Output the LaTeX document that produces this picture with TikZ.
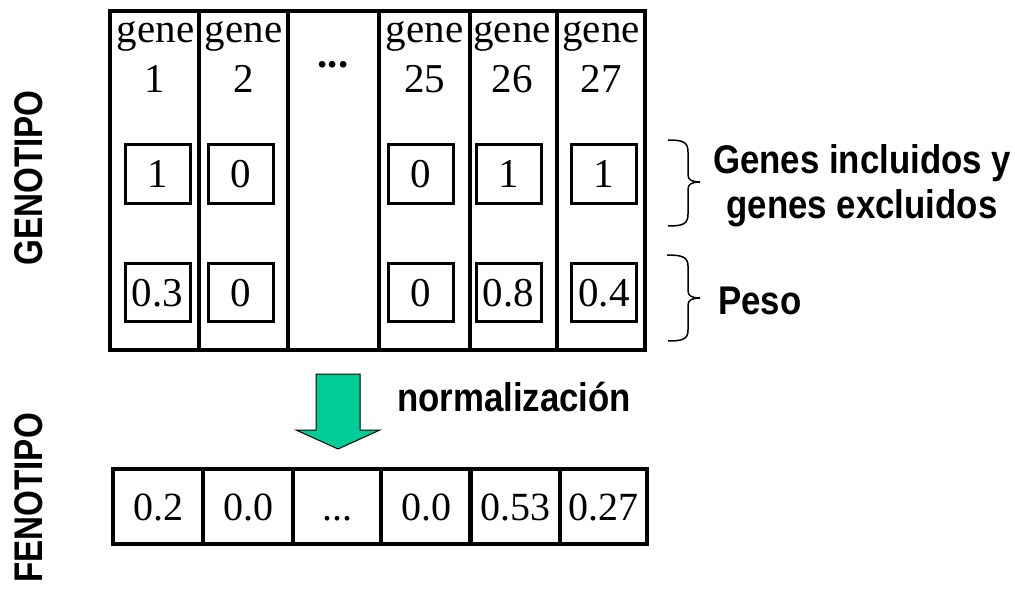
\documentclass[tikz,border=0pt]{standalone}
\usepackage{fontspec}
\setmainfont{Liberation Serif}
\newfontfamily\labelfont[FakeStretch=0.87]{Liberation Sans Bold}
\newfontfamily\titlefont[FakeStretch=0.83]{Liberation Sans Bold}
\definecolor{arrowgreen}{RGB}{0,204,150}
\begin{document}
\begin{tikzpicture}[x=1pt,y=-1pt,
  column/.style={draw, line width=4pt, inner sep=0pt, outer sep=0pt, anchor=north west},
  genetext/.style={font=\fontsize{41}{41}\selectfont, inner sep=0pt, anchor=base},
  valbox/.style={draw, line width=3pt, inner sep=0pt, outer sep=0pt, minimum width=65pt,
    minimum height=58pt, text height=28pt, text depth=0pt, font=\fontsize{41}{41}\selectfont},
  phenocell/.style={draw, line width=4pt, inner sep=0pt, outer sep=0pt, minimum height=75pt,
    text height=27pt, text depth=0pt, font=\fontsize{40}{40}\selectfont},
  sidelabel/.style={font=\labelfont\fontsize{40}{45}\selectfont, inner sep=0pt},
  rowtitle/.style={font=\titlefont\fontsize{40}{40}\selectfont, inner sep=0pt, rotate=90},
  bracestyle/.style={draw, line width=1.5pt}]
\useasboundingbox (0,0) rectangle (1015,591);

% genotype: six gene columns
\node[column, minimum width=89pt, minimum height=339pt] (c1) at (110,11) {};
\node[column, minimum width=89pt, minimum height=339pt] (c2) at (199,11) {};
\node[column, minimum width=91pt, minimum height=339pt] (c3) at (288,11) {};
\node[column, minimum width=91pt, minimum height=339pt] (c4) at (379,11) {};
\node[column, minimum width=88pt, minimum height=339pt] (c6) at (557,11) {};
\node[column, minimum width=87pt, minimum height=339pt] (c5) at (470,11) {};

% column headings
\node[genetext] (g1) at (155.5,43) {gene};
\node[genetext] (n1) at (155,93) {1};
\node[genetext] (g2) at (243.5,43) {gene};
\node[genetext] (n2) at (244,93) {2};
\node[genetext, font=\bfseries\fontsize{41}{41}\selectfont] (dots1) at (333,68) {...};
\node[genetext] (g4) at (424.5,43) {gene};
\node[genetext] (n4) at (424.5,93) {25};
\node[genetext] (g5) at (512,43) {gene};
\node[genetext] (n5) at (512,93) {26};
\node[genetext] (g6) at (601,43) {gene};
\node[genetext] (n6) at (601,93) {27};

% included / excluded flags
\node[valbox] (b11) at (157.5,174) {1};
\node[valbox] (b12) at (241,174) {0};
\node[valbox] (b14) at (420.5,174) {0};
\node[valbox] (b15) at (508.5,174) {1};
\node[valbox] (b16) at (604,174) {1};

% weights
\node[valbox] (b21) at (157.5,292) {0.3};
\node[valbox] (b22) at (241,292) {0};
\node[valbox] (b24) at (420.5,292) {0};
\node[valbox] (b25) at (508.5,292) {0.8};
\node[valbox] (b26) at (604,292) {0.4};

% normalisation arrow
\filldraw[fill=arrowgreen, draw=black, line width=1pt, line join=miter]
  (316,374) -- (360,374) -- (360,430) -- (380,430) -- (338,449) -- (296,430) -- (316,430) -- cycle;
\node[sidelabel, anchor=base west] (norm) at (397,411) {normalización};

% phenotype row
\node[phenocell, minimum width=90pt] (p1) at (158,506.5) {0.2};
\node[phenocell, minimum width=90pt] (p2) at (248,506.5) {0.0};
\node[phenocell, minimum width=88pt] (p3) at (337,506.5) {...};
\node[phenocell, minimum width=90pt] (p4) at (426,506.5) {0.0};
\node[phenocell, minimum width=90pt] (p5) at (515,506.5) {0.53};
\node[phenocell, minimum width=87pt] (p6) at (603.5,506.5) {0.27};

% braces and their labels
\draw[bracestyle] (668,140) .. controls (683,140) and (688,142) .. (688,152) -- (688,175)
  .. controls (688,180) and (692,182) .. (700,182)
  .. controls (692,182) and (688,184) .. (688,189) -- (688,214)
  .. controls (688,224) and (683,226) .. (668,226);
\node[sidelabel, align=center] (incl) at (862,186) {Genes incluidos y\\genes excluidos};

\draw[bracestyle] (667,255) .. controls (682,255) and (688,257) .. (688,266) -- (688,291)
  .. controls (688,296) and (692,298) .. (700,298)
  .. controls (692,298) and (688,300) .. (688,305) -- (688,330)
  .. controls (688,339) and (683,341) .. (668,341);
\node[sidelabel, anchor=base west] (peso) at (718,314) {Peso};

% row titles
\node[rowtitle] (geno) at (29,178) {GENOTIPO};
\node[rowtitle] (feno) at (29,498) {FENOTIPO};
\end{tikzpicture}
\end{document}
